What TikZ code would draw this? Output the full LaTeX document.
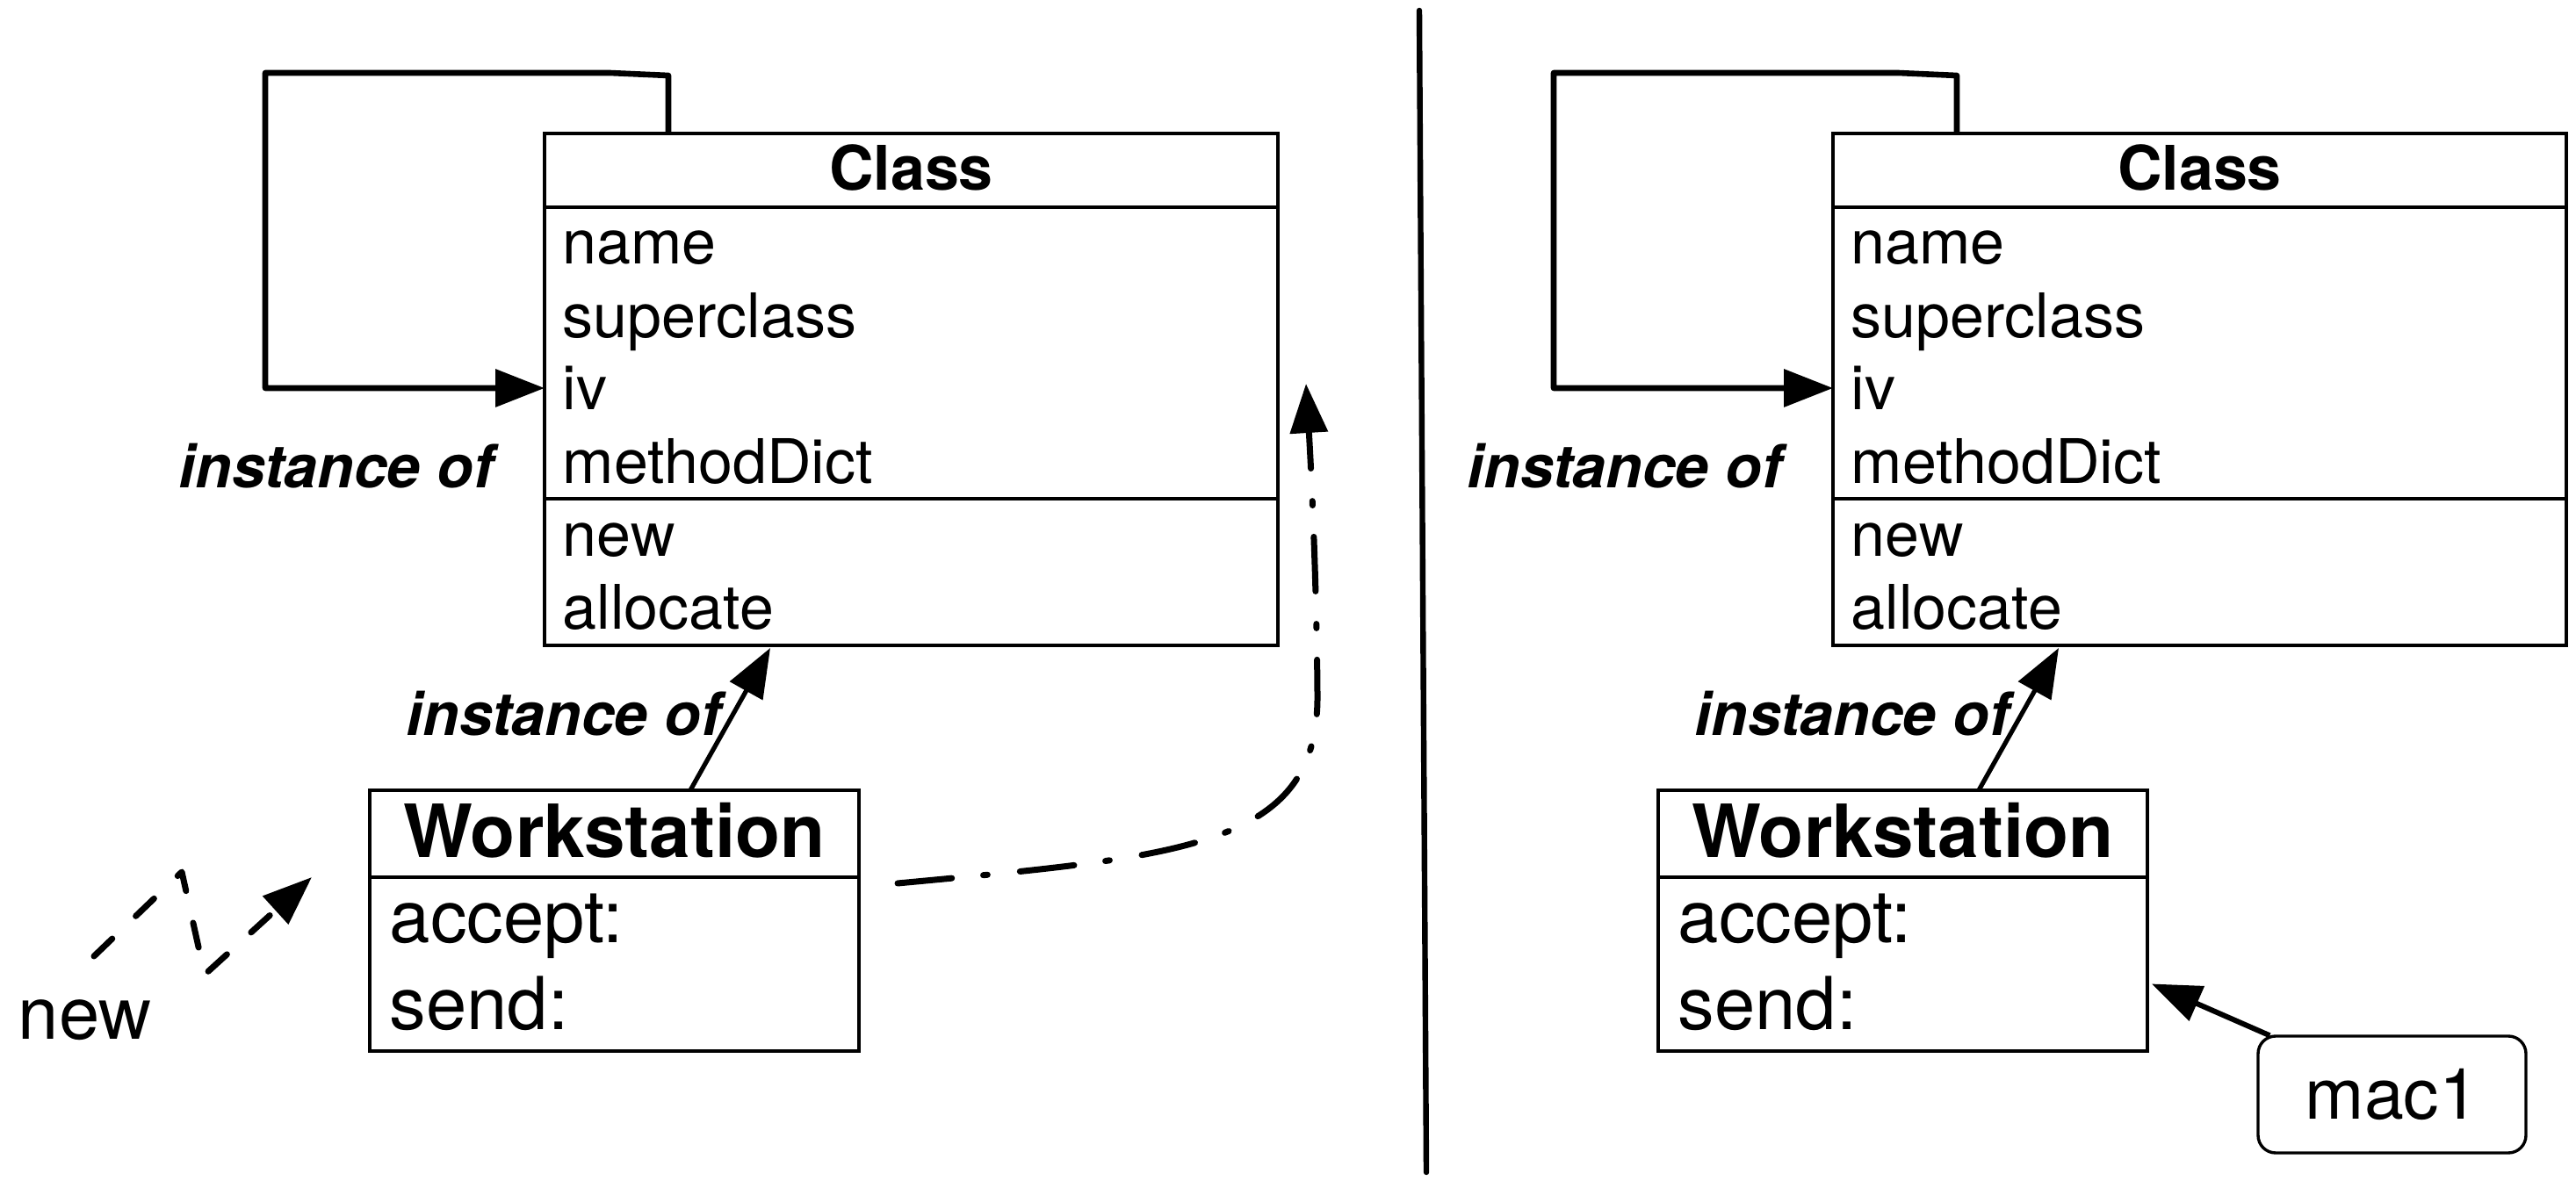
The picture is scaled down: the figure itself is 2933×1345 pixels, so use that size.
\documentclass[tikz,border=0pt]{standalone}
\usepackage{fontspec}
\setmainfont{TeX Gyre Heros}
\usetikzlibrary{arrows.meta,calc}
\newcommand\mkclassside[2]{%
  % Class box
  \node[box, minimum width=208.75pt, minimum height=145.75pt] (cls#1) at (620+#2,152) {};
  \draw[sep] ($(cls#1.north west)+(0,84)$) -- ($(cls#1.north east)+(0,84)$);
  \draw[sep] ($(cls#1.north west)+(0,416)$) -- ($(cls#1.north east)+(0,416)$);
  \node[hdr]  (clsT#1) at (1037.5+#2,217) {Class};
  \node[attr] (cA#1) at (640+#2,301) {name};
  \node[attr] (cB#1) at (640+#2,385) {superclass};
  \node[attr] (cC#1) at (640+#2,467) {iv};
  \node[attr] (cD#1) at (640+#2,551) {methodDict};
  \node[attr] (cE#1) at (640+#2,634) {new};
  \node[attr] (cF#1) at (640+#2,717) {allocate};
  % self loop
  \draw[loopline] ($(cls#1.north west)+(141,0)$) -- ++(0,-66) -- (694+#2,83) -- (302+#2,83) -- (302+#2,442) -- ($(cls#1.north west)+(0,290)$);
  \node[inst] (i1#1) at (203+#2,556) {instance of};
  % Workstation box
  \node[box, minimum width=139.25pt, minimum height=74.25pt] (ws#1) at (421+#2,900) {};
  \draw[sep] ($(ws#1.north west)+(0,99)$) -- ($(ws#1.north east)+(0,99)$);
  \node[wshdr]  (wsT#1) at (699.5+#2,977) {Workstation};
  \node[wsattr] (wA#1) at (443+#2,1074) {accept:};
  \node[wsattr] (wB#1) at (443+#2,1173) {send:};
  % instance-of arrow
  \draw[instarrow] ($(ws#1.north west)+(365,0)$) -- ($(cls#1.south west)+(257,3)$);
  \node[inst] (i2#1) at (462+#2,838) {instance of};
}
\begin{document}
\begin{tikzpicture}[x=0.25pt,y=-0.25pt,
  box/.style={draw, line width=0.85pt, inner sep=0pt, outer sep=0pt, anchor=north west},
  sep/.style={line width=0.85pt},
  attr/.style={anchor=base west, inner sep=0pt, font=\fontsize{17.5}{20}\selectfont},
  hdr/.style={anchor=base, inner sep=0pt, font=\bfseries\fontsize{17.5}{20}\selectfont},
  wshdr/.style={anchor=base, inner sep=0pt, font=\bfseries\fontsize{20.9}{24}\selectfont},
  wsattr/.style={anchor=base west, inner sep=0pt, font=\fontsize{20.8}{24}\selectfont},
  inst/.style={anchor=base west, inner sep=0pt, font=\bfseries\itshape\fontsize{17}{20}\selectfont},
  tip/.style={-{Triangle[length=14pt,width=10.5pt]}},
  loopline/.style={line width=1.65pt, line join=round, tip},
  instarrow/.style={line width=1.3pt, tip},
  msgline/.style={line width=1.75pt, line cap=round, line join=round, tip}
]
\useasboundingbox (0,0) rectangle (2933,1345);

\mkclassside{1}{0}
\mkclassside{2}{1467}

% divider
\coordinate (dtop) at (1616,12);
\coordinate (dbot) at (1624,1335);
\draw[line width=1.6pt, line cap=round] (dtop) -- (dbot);

% left: "new" message (dashed zigzag)
\node[anchor=base west, inner sep=0pt, font=\fontsize{20.8}{24}\selectfont] (newlbl) at (20,1183) {new};
\coordinate (zs) at (107,1089);
\coordinate (ze) at (355,999);
\draw[msgline, dash pattern=on 7.2pt off 9.3pt] (zs) -- (207,993) -- (233,1110) -- (ze);

% left: dash-dot curve from Workstation to Class
\coordinate (cs) at (1022,1006);
\coordinate (ce) at (1487,437);
\draw[msgline, dash pattern=on 15.5pt off 9pt on 1.2pt off 9.3pt]
  (cs) .. controls (1350,975) and (1502,965) .. (1500,790)
       .. controls (1499,650) and (1492,520) .. (ce);

% right: mac1 instance
\node[draw, rounded corners=5pt, line width=0.85pt, minimum width=76.25pt, minimum height=33.25pt,
      inner sep=0pt, font=\fontsize{20.2}{22}\selectfont] (mac1) at (2723.5,1246.5) {mac1};
\draw[line width=1.5pt, tip] ($(mac1.north west)+(15,1)$) -- ($(ws2.east)+(5,72)$);
\end{tikzpicture}
\end{document}
